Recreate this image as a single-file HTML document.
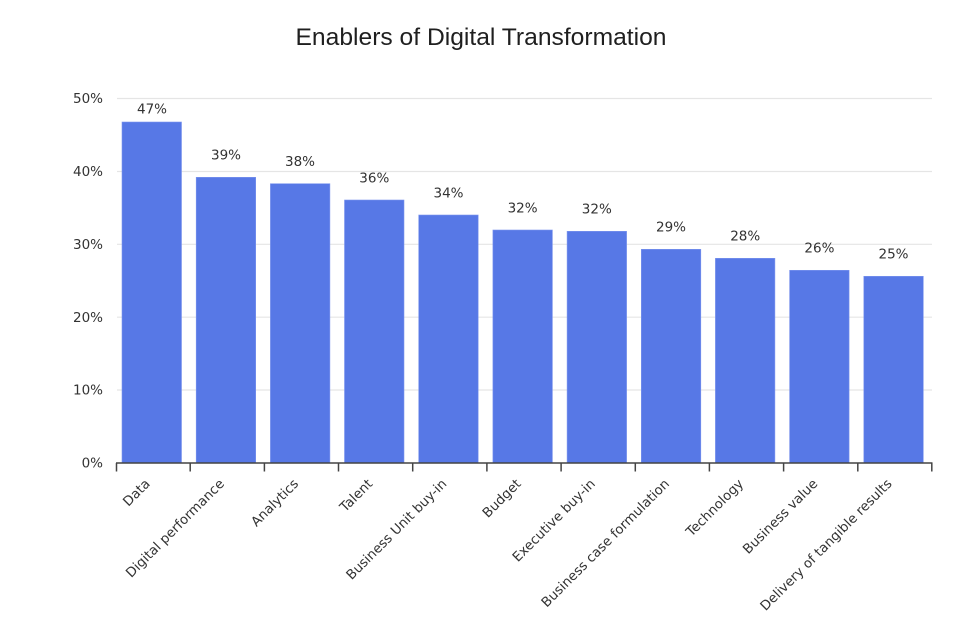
<!DOCTYPE html>
<html><head><meta charset="utf-8"><style>
html,body{margin:0;padding:0;background:#fff;}
svg{display:block;}
</style></head><body>
<svg width="961" height="634" viewBox="0 0 961 634" xmlns="http://www.w3.org/2000/svg">
<rect width="961" height="634" fill="#fff"/>
<text x="481" y="45" text-anchor="middle" font-family="Liberation Sans, sans-serif" font-size="24" fill="#1f1f1f" textLength="371" lengthAdjust="spacingAndGlyphs">Enablers of Digital Transformation</text>
<g stroke="#e5e5e5" stroke-width="1.2">
<line x1="117" y1="98.5" x2="932" y2="98.5"/>
<line x1="117" y1="171.5" x2="932" y2="171.5"/>
<line x1="117" y1="244.3" x2="932" y2="244.3"/>
<line x1="117" y1="317.2" x2="932" y2="317.2"/>
<line x1="117" y1="390" x2="932" y2="390"/>
</g>
<g font-family="DejaVu Sans, sans-serif" font-size="13.5" fill="#333" text-anchor="end">
<text x="103" y="103">50%</text>
<text x="103" y="176">40%</text>
<text x="103" y="249">30%</text>
<text x="103" y="322">20%</text>
<text x="103" y="394.5">10%</text>
<text x="103" y="467.5">0%</text>
</g>
<g fill="#5778e6" stroke="#7d96ee" stroke-width="0.6">
<rect x="122" y="122" width="59.5" height="341"/>
<rect x="196.2" y="177.3" width="59.5" height="285.7"/>
<rect x="270.4" y="183.7" width="59.5" height="279.3"/>
<rect x="344.5" y="200" width="59.5" height="263"/>
<rect x="418.7" y="215" width="59.5" height="248"/>
<rect x="492.9" y="230" width="59.5" height="233"/>
<rect x="567.1" y="231.3" width="59.5" height="231.7"/>
<rect x="641.3" y="249.3" width="59.5" height="213.7"/>
<rect x="715.4" y="258.3" width="59.5" height="204.7"/>
<rect x="789.6" y="270.3" width="59.5" height="192.7"/>
<rect x="863.8" y="276.3" width="59.5" height="186.7"/>
</g>
<g font-family="DejaVu Sans, sans-serif" font-size="13.5" fill="#333" text-anchor="middle">
<text x="152" y="113.3">47%</text>
<text x="226" y="159.7">39%</text>
<text x="300" y="166.1">38%</text>
<text x="374.3" y="182.4">36%</text>
<text x="448.5" y="197.4">34%</text>
<text x="522.6" y="212.4">32%</text>
<text x="596.8" y="213.7">32%</text>
<text x="671" y="231.7">29%</text>
<text x="745.2" y="240.7">28%</text>
<text x="819.4" y="252.7">26%</text>
<text x="893.5" y="258.7">25%</text>
</g>
<g stroke="#444" stroke-width="1.5">
<line x1="116" y1="463" x2="932.5" y2="463"/>
<line x1="116.5" y1="463" x2="116.5" y2="471.5"/>
<line x1="190.2" y1="463" x2="190.2" y2="471.5"/>
<line x1="264.4" y1="463" x2="264.4" y2="471.5"/>
<line x1="338.5" y1="463" x2="338.5" y2="471.5"/>
<line x1="412.7" y1="463" x2="412.7" y2="471.5"/>
<line x1="486.9" y1="463" x2="486.9" y2="471.5"/>
<line x1="561.1" y1="463" x2="561.1" y2="471.5"/>
<line x1="635.3" y1="463" x2="635.3" y2="471.5"/>
<line x1="709.4" y1="463" x2="709.4" y2="471.5"/>
<line x1="783.6" y1="463" x2="783.6" y2="471.5"/>
<line x1="857.8" y1="463" x2="857.8" y2="471.5"/>
<line x1="931.8" y1="463" x2="931.8" y2="471.5"/>
</g>
<g font-family="DejaVu Sans, sans-serif" font-size="13.3" fill="#333" text-anchor="end">
<text transform="translate(150.8,484.5) rotate(-45)">Data</text>
<text transform="translate(225,484.5) rotate(-45)">Digital performance</text>
<text transform="translate(299.2,484.5) rotate(-45)">Analytics</text>
<text transform="translate(373.3,484.5) rotate(-45)">Talent</text>
<text transform="translate(447.5,484.5) rotate(-45)">Business Unit buy-in</text>
<text transform="translate(521.7,484.5) rotate(-45)">Budget</text>
<text transform="translate(595.9,484.5) rotate(-45)">Executive buy-in</text>
<text transform="translate(670.1,484.5) rotate(-45)">Business case formulation</text>
<text transform="translate(744.2,484.5) rotate(-45)">Technology</text>
<text transform="translate(818.4,484.5) rotate(-45)">Business value</text>
<text transform="translate(892.6,484.5) rotate(-45)">Delivery of tangible results</text>
</g>
</svg>
</body></html>
